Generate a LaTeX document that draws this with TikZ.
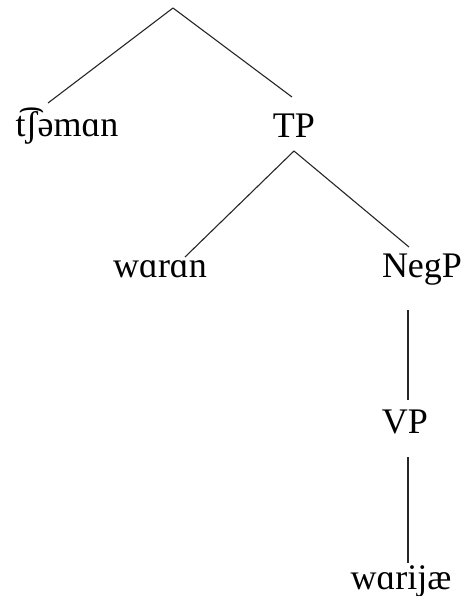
\documentclass[tikz,border=0pt]{standalone}
\usepackage{fontspec}
\setmainfont{Liberation Serif}
\begin{document}
\begin{tikzpicture}[x=0.5pt,y=-0.5pt,
  lbl/.style={anchor=base, inner sep=0pt, font=\fontsize{18}{20}\selectfont},
  edge/.style={draw=black!85, line width=0.55pt}]
\useasboundingbox (0,0) rectangle (463,596);
% labels
\node[lbl] (ch)   at (67,136)  {t͡ʃəmɑn};
\node[lbl] (tp)   at (294,137) {TP};
\node[lbl] (wrn)  at (160,277) {wɑrɑn};
\node[lbl] (negp) at (422,277) {NegP};
\node[lbl] (vp)   at (405,433) {VP};
\node[lbl] (wrj)  at (401,589) {wɑrijæ};
% connector ends
\coordinate (root) at (173,8);
\coordinate (ch-t) at (48,103);
\coordinate (tp-t) at (292,97);
\coordinate (tp-b) at (294,151);
\coordinate (wrn-t) at (185,257);
\coordinate (negp-t) at (409,247);
\coordinate (negp-b) at (408,310);
\coordinate (vp-t) at (408,400);
\coordinate (vp-b) at (408,457);
\coordinate (wrj-t) at (408,563);
% connectors
\draw[edge] (root) -- (ch-t);
\draw[edge] (root) -- (tp-t);
\draw[edge] (tp-b) -- (wrn-t);
\draw[edge] (tp-b) -- (negp-t);
\draw[edge] (negp-b) -- (vp-t);
\draw[edge] (vp-b) -- (wrj-t);
\end{tikzpicture}
\end{document}
